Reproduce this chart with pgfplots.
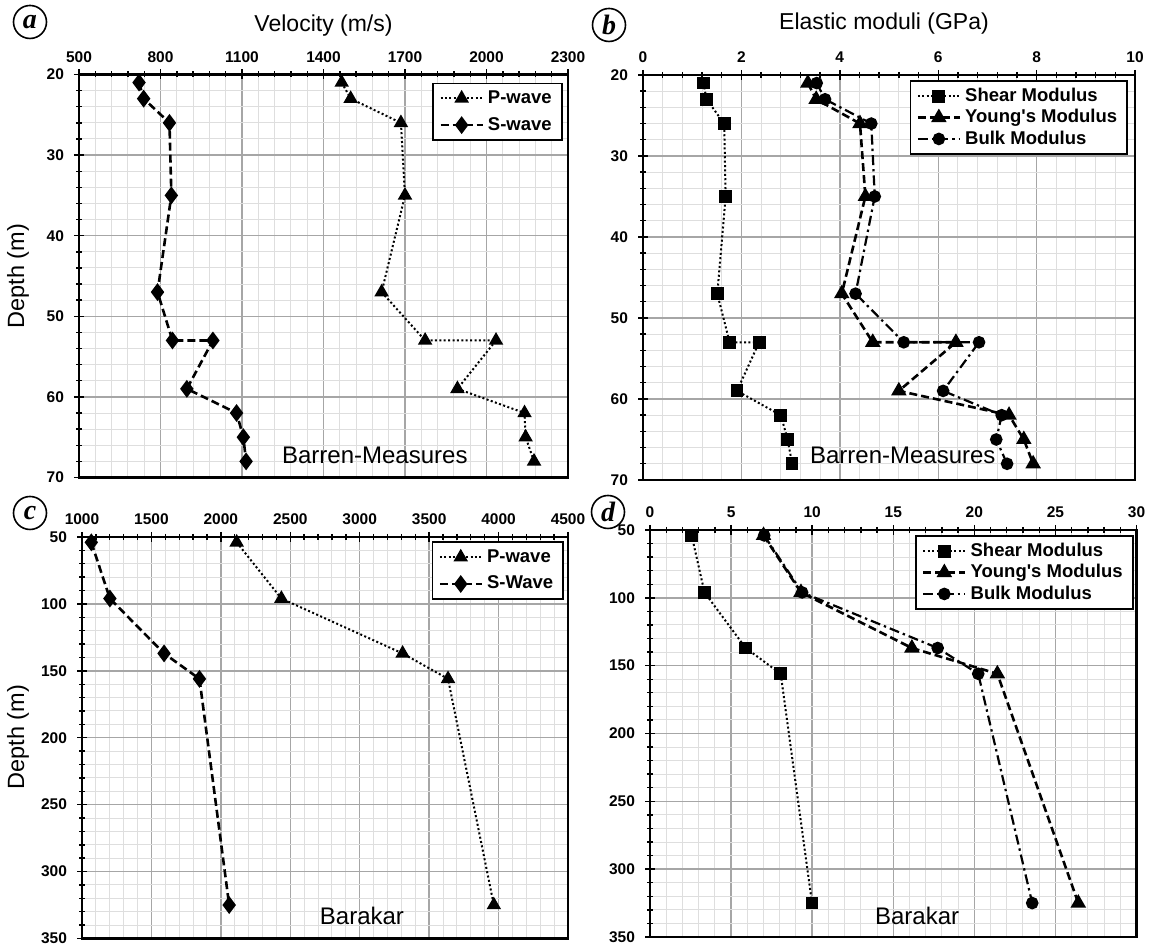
\documentclass[border=0pt]{standalone}
\usepackage{fontspec}
\setmainfont{Liberation Sans}
\newfontfamily\serifbi{Liberation Serif}
\usepackage{pgfplots}
\pgfplotsset{compat=1.18}

\pgfplotstableread{
d   s     p
21  721   1467
23  738   1500
26  833   1685
35  840   1700
47  789   1614
53  844   1774
53  993   2035
59  897   1893
62  1080  2140
65  1105  2144
68  1115  2175
}\tabA

\pgfplotstableread{
d   sh    yg    bk
21  1.23  3.35  3.53
23  1.29  3.52  3.70
26  1.65  4.41  4.64
35  1.68  4.52  4.71
47  1.51  4.04  4.32
53  1.76  4.67  5.30
53  2.36  6.36  6.83
59  1.91  5.20  6.10
62  2.80  7.44  7.29
65  2.94  7.74  7.18
68  3.03  7.93  7.40
}\tabB

\pgfplotstableread{
d    s     p
54   1067  2114
96   1201  2436
137  1591  3309
156  1846  3636
325  2060  3966
}\tabC

\pgfplotstableread{
d    sh    yg     bk
54   2.57  7.00   7.04
96   3.36  9.31   9.38
137  5.90  16.15  17.74
156  8.06  21.42  20.24
325  9.99  26.41  23.57
}\tabD

\tikzset{
  lbl/.style={font=\fontsize{12}{14}\selectfont},
  panlab/.style={draw, circle, line width=0.8pt, minimum size=16.5pt, inner sep=0pt, font=\serifbi\bfseries\itshape\fontsize{14}{14}\selectfont},
}

\pgfplotsset{
  panel/.style={
    scale only axis,
    anchor=south west,
    y dir=reverse,
    grid=both,
    major grid style={black!35, line width=0.7pt},
    minor grid style={black!13, line width=0.5pt},
    xtick pos=right, ytick pos=left,
    xticklabel pos=right,
    tick align=center,
    major tick length=5pt, minor tick length=3pt,
    tick style={black, line width=0.7pt},
    axis line style={line width=1.1pt},
    ticklabel style={font=\fontsize{7.75}{9}\selectfont\bfseries},
    yticklabel style={xshift=-1.5pt},
    /pgf/number format/assume math mode=true,
    /pgf/number format/1000 sep={},
    minor x tick num=4, minor y tick num=4,
    legend style={draw=black, line width=0.9pt,
      font=\fontsize{9.25}{11}\selectfont\bfseries,
      anchor=north east, inner xsep=3pt, inner ysep=1.5pt,
      row sep=-1.5pt, cells={anchor=west}},
    legend cell align=left,
    legend image code/.code={\draw[mark repeat=2,mark phase=2] plot coordinates {(0pt,0pt) (10.5pt,0pt) (21pt,0pt)};},
    clip=false,
  },
  pw/.style={black, line width=1pt, dash pattern=on 1pt off 1.2pt, mark=triangle*, mark size=3.2pt, mark options={solid}},
  sw/.style={black, line width=1.3pt, dash pattern=on 4pt off 2pt, mark=diamond*, mark size=3.4pt, mark options={solid}},
  shm/.style={black, line width=1pt, dash pattern=on 1pt off 1.2pt, mark=square*, mark size=2.7pt, mark options={solid}},
  ygm/.style={black, line width=1.3pt, dash pattern=on 4pt off 2pt, mark=triangle*, mark size=3.2pt, mark options={solid}},
  bkm/.style={black, line width=1.1pt, dash pattern=on 5pt off 2pt on 1.2pt off 2pt, mark=*, mark size=2.6pt, mark options={solid}},
}

\begin{document}
\begin{tikzpicture}
\path[use as bounding box] (0,0) rectangle (575.5pt,472.5pt);

% (a)
\begin{axis}[panel, at={(39.5pt,233.75pt)}, width=244.5pt, height=201.5pt,
  xmin=500, xmax=2300, ymin=20, ymax=70,
  xtick={500,800,...,2300}, ytick={20,30,...,70},
  legend style={at={(0.989,0.98)}, row sep=1.5pt}]
\addplot[pw] table[x=p,y=d] {\tabA};
\addlegendentry{P-wave}
\addplot[sw] table[x=s,y=d] {\tabA};
\addlegendentry{S-wave}
\node[lbl] at (axis description cs:0.605,0.056) {Barren-Measures};
\end{axis}

% (b)
\begin{axis}[panel, at={(321.5pt,232.5pt)}, width=246pt, height=202.5pt,
  xmin=0, xmax=10, ymin=20, ymax=70,
  xtick={0,2,...,10}, ytick={20,30,...,70},
  legend style={at={(0.986,0.9875)}}]
\addplot[shm] table[x=sh,y=d] {\tabB};
\addlegendentry{Shear Modulus}
\addplot[ygm] table[x=yg,y=d] {\tabB};
\addlegendentry{Young\textquotesingle s Modulus}
\addplot[bkm] table[x=bk,y=d] {\tabB};
\addlegendentry{Bulk Modulus}
\node[lbl] at (axis description cs:0.528,0.062) {Barren-Measures};
\end{axis}

% (c)
\begin{axis}[panel, at={(41pt,3.25pt)}, width=243pt, height=200.75pt,
  xmin=1000, xmax=4500, ymin=50, ymax=350,
  xtick={1000,1500,...,4500}, ytick={50,100,...,350},
  legend style={at={(0.992,0.989)}, row sep=1.5pt}]
\addplot[pw] table[x=p,y=d] {\tabC};
\addlegendentry{P-wave}
\addplot[sw] table[x=s,y=d] {\tabC};
\addlegendentry{S-Wave}
\node[lbl] at (axis description cs:0.576,0.056) {Barakar};
\end{axis}

% (d)
\begin{axis}[panel, at={(325pt,4pt)}, width=243.25pt, height=203.5pt,
  xmin=0, xmax=30, ymin=50, ymax=350,
  xtick={0,5,...,30}, ytick={50,100,...,350},
  legend style={at={(0.994,0.9876)}}]
\addplot[shm] table[x=sh,y=d] {\tabD};
\addlegendentry{Shear Modulus}
\addplot[ygm] table[x=yg,y=d] {\tabD};
\addlegendentry{Young\textquotesingle s Modulus}
\addplot[bkm] table[x=bk,y=d] {\tabD};
\addlegendentry{Bulk Modulus}
\node[lbl] at (axis description cs:0.549,0.052) {Barakar};
\end{axis}

% titles and labels
\node[font=\fontsize{11.5}{13}\selectfont] at (161.75pt,459.5pt) {Velocity (m/s)};
\node[font=\fontsize{11.5}{13}\selectfont] at (442pt,460.5pt) {Elastic moduli (GPa)};
\node[font=\fontsize{11.75}{13}\selectfont, rotate=90] at (9pt,334.5pt) {Depth (m)};
\node[font=\fontsize{11.75}{13}\selectfont, rotate=90] at (9pt,104pt) {Depth (m)};
\node[panlab] at (15pt,461.5pt) {a};
\node[panlab] at (304.5pt,460pt) {b};
\node[panlab] at (15pt,216pt) {c};
\node[panlab] at (304pt,216.5pt) {d};
\end{tikzpicture}
\end{document}
